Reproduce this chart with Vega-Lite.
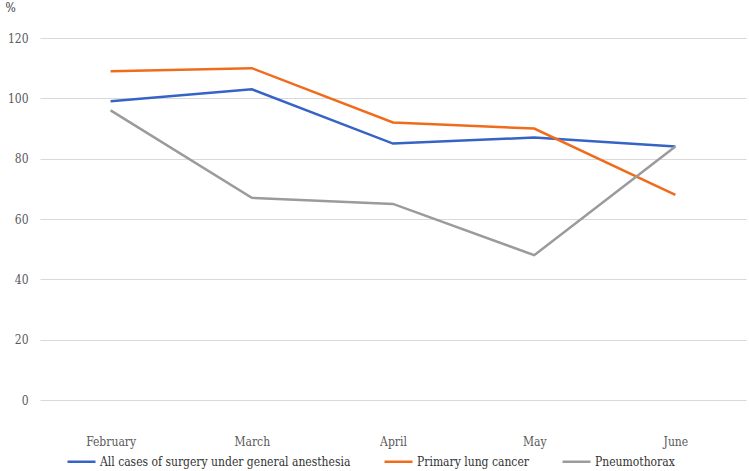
{
  "$schema": "https://vega.github.io/schema/vega-lite/v6.json",
  "width": 706,
  "height": 362,
  "autosize": {"type": "none"},
  "padding": {"left": 40, "top": 38, "right": 3, "bottom": 71},
  "background": "white",
  "data": {
    "values": [
      {"month": "February", "series": "All cases of surgery under general anesthesia", "value": 99},
      {"month": "March", "series": "All cases of surgery under general anesthesia", "value": 103},
      {"month": "April", "series": "All cases of surgery under general anesthesia", "value": 85},
      {"month": "May", "series": "All cases of surgery under general anesthesia", "value": 87},
      {"month": "June", "series": "All cases of surgery under general anesthesia", "value": 84},
      {"month": "February", "series": "Primary lung cancer", "value": 109},
      {"month": "March", "series": "Primary lung cancer", "value": 110},
      {"month": "April", "series": "Primary lung cancer", "value": 92},
      {"month": "May", "series": "Primary lung cancer", "value": 90},
      {"month": "June", "series": "Primary lung cancer", "value": 68},
      {"month": "February", "series": "Pneumothorax", "value": 96},
      {"month": "March", "series": "Pneumothorax", "value": 67},
      {"month": "April", "series": "Pneumothorax", "value": 65},
      {"month": "May", "series": "Pneumothorax", "value": 48},
      {"month": "June", "series": "Pneumothorax", "value": 84}
    ]
  },
  "mark": {"type": "line", "strokeWidth": 2.5},
  "encoding": {
    "x": {
      "field": "month",
      "type": "ordinal",
      "sort": ["February", "March", "April", "May", "June"],
      "scale": {"type": "point", "padding": 0.5},
      "axis": {"title": null, "labelAngle": 0, "domain": false, "ticks": false, "grid": false, "labelPadding": 36}
    },
    "y": {
      "field": "value",
      "type": "quantitative",
      "scale": {"domain": [0, 120]},
      "axis": {
        "title": "%",
        "titleAngle": 0,
        "titleX": -35,
        "titleY": -24,
        "titleAlign": "left",
        "titleFontWeight": "normal",
        "titleFontSize": 12,
        "titleColor": "#333333",
        "values": [0, 20, 40, 60, 80, 100, 120],
        "domain": false,
        "ticks": false,
        "labelPadding": 12,
        "gridColor": "#d9d9d9",
        "gridWidth": 1.2
      }
    },
    "color": {
      "field": "series",
      "type": "nominal",
      "scale": {
        "domain": ["All cases of surgery under general anesthesia", "Primary lung cancer", "Pneumothorax"],
        "range": ["#3563c6", "#f06c1c", "#9b9b9b"]
      },
      "legend": {
        "title": null,
        "orient": "none",
        "direction": "horizontal",
        "legendX": 26,
        "legendY": 408,
        "symbolType": "stroke",
        "symbolSize": 784,
        "symbolStrokeWidth": 2.5,
        "labelOffset": 3,
        "labelLimit": 0,
        "columnPadding": 28
      }
    }
  },
  "config": {
    "view": {"stroke": null},
    "axis": {"labelFont": "DejaVu Serif Condensed", "titleFont": "DejaVu Serif Condensed", "labelFontSize": 12, "labelColor": "#595959"},
    "legend": {"labelFont": "DejaVu Serif Condensed", "labelFontSize": 12, "labelColor": "#333333"}
  }
}
